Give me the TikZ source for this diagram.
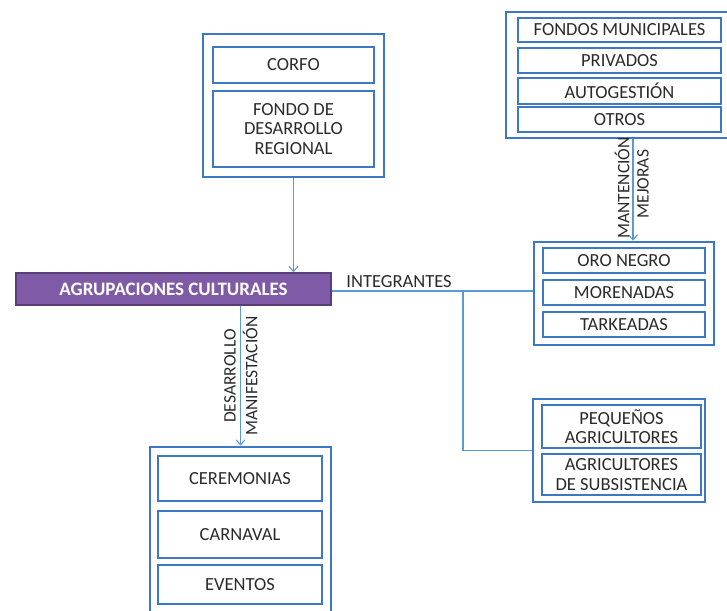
\documentclass[tikz,border=0pt]{standalone}
\usepackage{fontspec}
\setmainfont{Carlito}
\usetikzlibrary{arrows.meta}

\definecolor{boxblue}{HTML}{3C78C6}
\definecolor{linkblue}{HTML}{5B9BD5}
\definecolor{groupfill}{HTML}{7F5AA6}
\definecolor{groupedge}{HTML}{5A3E7A}
\definecolor{txt}{HTML}{2A2A2A}

\begin{document}
\begin{tikzpicture}[x=1pt,y=-1pt,
  boxtext/.style={font=\fontsize{18.5}{19.5}\selectfont,text=txt},
  frame/.style={draw=boxblue,line width=2.8pt,inner sep=0pt},
  item/.style={draw=boxblue,line width=2.8pt,inner sep=0pt,align=center,boxtext},
  group/.style={draw=groupedge,line width=1.5pt,fill=groupfill,inner sep=0pt,
    text=white,font=\fontsize{19}{20}\selectfont\bfseries},
  link/.style={draw=linkblue,line width=1.1pt},
  arrowlink/.style={link,-{Straight Barb[length=5pt,width=9pt]}},
  vlabel/.style={rotate=90,font=\fontsize{17.5}{19}\selectfont,text=txt,inner sep=0pt}]
\useasboundingbox (0,0) rectangle (727,610);
\clip (0,0) rectangle (727,610);

% Funding block (CORFO)
\node[frame,minimum width=181,minimum height=143] (corfoFrame) at (293.5,105.5) {};
\node[item,minimum width=161,minimum height=36] (corfo) at (293.5,65) {CORFO};
\node[item,minimum width=161,minimum height=76] (fondo) at (293.5,129) {FONDO DE\\DESARROLLO\\REGIONAL};

% Other funding sources
\node[frame,minimum width=224,minimum height=126] (topFrame) at (618,75) {};
\node[item,minimum width=203,minimum height=24] (fondos) at (619.5,30) {FONDOS MUNICIPALES};
\node[item,minimum width=203,minimum height=25] (privados) at (619.5,60.5) {PRIVADOS};
\node[item,minimum width=203,minimum height=26] (autog) at (619.5,91) {AUTOGESTIÓN};
\node[item,minimum width=203,minimum height=25] (otros) at (619.5,119.5) {OTROS};

% Central group
\node[group,minimum width=315,minimum height=32] (group) at (173.5,289) {AGRUPACIONES CULTURALES};

% Dance groups
\node[frame,minimum width=180,minimum height=103] (oroFrame) at (624,293.5) {};
\node[item,minimum width=162,minimum height=25] (oro) at (624,260.5) {ORO NEGRO};
\node[item,minimum width=162,minimum height=25] (morenadas) at (624,292.5) {MORENADAS};
\node[item,minimum width=162,minimum height=25] (tarkeadas) at (624,324.5) {TARKEADAS};

% Farmers
\node[frame,minimum width=172,minimum height=103] (peqFrame) at (619,450.5) {};
\node[item,minimum width=159,minimum height=43] (peq) at (621.5,426.5) {PEQUEÑOS\\AGRICULTORES};
\node[item,minimum width=159,minimum height=41] (agric) at (621.5,474.5) {AGRICULTORES\\DE SUBSISTENCIA};

% Activities
\node[frame,minimum width=181,minimum height=173] (bottomFrame) at (240.5,533.5) {};
\node[item,minimum width=164,minimum height=45] (cer) at (240,478.5) {CEREMONIAS};
\node[item,minimum width=164,minimum height=47] (car) at (240,534.5) {CARNAVAL};
\node[item,minimum width=164,minimum height=39] (eve) at (240,584.5) {EVENTOS};

% Connectors
\draw[arrowlink] (corfoFrame.south) -- (corfoFrame.south |- group.north);
\draw[arrowlink] ([xshift=15pt]topFrame.south) -- ([xshift=9pt]oroFrame.north);
\draw[arrowlink] (bottomFrame.north |- group.south) -- (bottomFrame.north);
\draw[link] ([yshift=-2pt]group.east) -- ([yshift=-2pt]group.east -| oroFrame.west);
\coordinate (split) at (463,0);
\draw[link] ([yshift=-2pt]split |- group.east) |- (peqFrame.west);

% Connector labels
\node[boxtext,inner sep=0pt] (integr) at (399,282) {INTEGRANTES};
\node[vlabel] (desarrollo) at (230,376) {DESARROLLO};
\node[vlabel] (manif) at (250,376) {MANIFESTACIÓN};
\node[vlabel] (mant) at (622,188) {MANTENCIÓN};
\node[vlabel] (mejoras) at (643,184) {MEJORAS};
\end{tikzpicture}
\end{document}
